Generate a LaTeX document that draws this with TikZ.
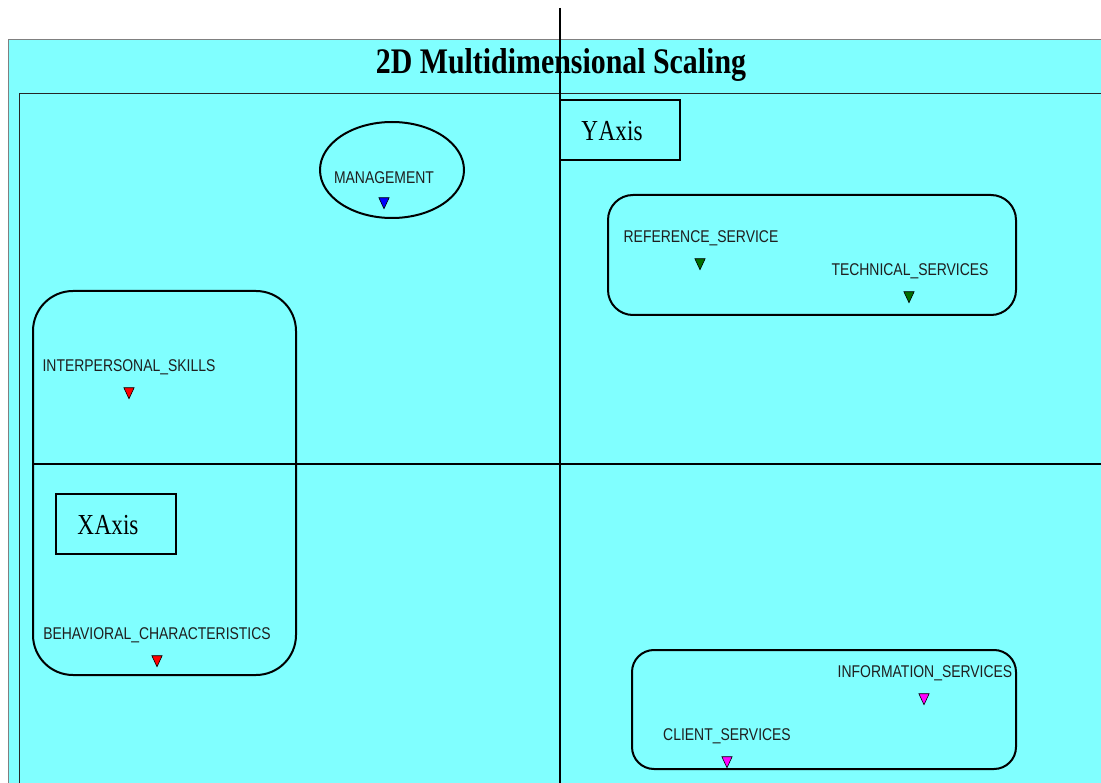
\documentclass[tikz,border=0pt]{standalone}
\usepackage{fontspec}
\setmainfont{Liberation Serif}
\newfontfamily\ptlabelfont[FakeStretch=0.82]{Liberation Sans}
\newfontfamily\titlefont[FakeStretch=0.83]{Liberation Serif}
\newfontfamily\axisfont[FakeStretch=0.8]{Liberation Serif}
\usetikzlibrary{shapes.geometric}
\definecolor{panelcyan}{HTML}{80FFFF}
\definecolor{ptblue}{HTML}{0000FF}
\definecolor{ptgreen}{HTML}{006E00}
\definecolor{ptred}{HTML}{FF0000}
\definecolor{ptmagenta}{HTML}{FF00FF}
\tikzset{
  ptlabel/.style={font=\ptlabelfont\fontsize{17}{17}\selectfont, text=black!88, inner sep=0pt, anchor=center},
  ptmark/.style={isosceles triangle, isosceles triangle apex angle=50, shape border rotate=-90,
    minimum height=11pt, minimum width=10pt, inner sep=0pt, draw=black, line width=0.6pt, fill=#1},
  axisbox/.style={draw=black, line width=2pt, minimum width=120pt, minimum height=60pt,
    inner sep=0pt},
  axistext/.style={font=\axisfont\fontsize{29}{29}\selectfont, inner sep=0pt},
  cluster/.style={draw=black, line width=2pt},
  axisline/.style={draw=black, line width=2pt}
}
\begin{document}
\begin{tikzpicture}[x=1pt,y=-1pt]
\useasboundingbox (0,0) rectangle (1101,783);
\clip (0,0) rectangle (1101,783);

% panel and plotting frame
\draw[fill=panelcyan, draw=black!50, line width=1pt] (8,40) rectangle (1120,800);
\draw[black!85, line width=1.5pt] (19.5,93.5) rectangle (1120,800);

% title
\node[font=\titlefont\bfseries\fontsize{36}{36}\selectfont, inner sep=0pt] (title) at (561,65) {2D Multidimensional Scaling};

% cluster outlines
\draw[cluster] (392,170) ellipse [x radius=72, y radius=48];
\draw[cluster, rounded corners=25pt] (608,195) rectangle (1016,315);
\draw[cluster, rounded corners=40pt] (33,291) rectangle (296,675);
\draw[cluster, rounded corners=22pt] (632,650) rectangle (1016,769);

% axes
\coordinate (ytop) at (560,8);
\coordinate (ybot) at (560,800);
\coordinate (xleft) at (33,464);
\coordinate (xright) at (1120,464);
\draw[axisline] (ytop) -- (ybot);
\draw[axisline] (xleft) -- (xright);

% axis captions
\node[axisbox] (yaxis) at (620,130) {};
\node[axistext] (yaxisT) at (612,131) {Y\hspace{0.5pt}Axis};
\node[axisbox] (xaxis) at (116,524) {};
\node[axistext] (xaxisT) at (108,525) {X\hspace{0.5pt}Axis};

% points
\node[ptmark=ptblue] (mgmt) at (384,201) {};
\node[ptlabel] (mgmtL) at (384,178) {MANAGEMENT};

\node[ptmark=ptgreen] (ref) at (700,262) {};
\node[ptlabel] (refL) at (701,238) {REFERENCE\_SERVICE};

\node[ptmark=ptgreen] (tech) at (909,295) {};
\node[ptlabel] (techL) at (910,271) {TECHNICAL\_SERVICES};

\node[ptmark=ptred] (inter) at (129,391) {};
\node[ptlabel] (interL) at (129,367) {INTERPERSONAL\_SKILLS};

\node[ptmark=ptred] (behav) at (157,659) {};
\node[ptlabel] (behavL) at (157,635) {BEHAVIORAL\_CHARACTERISTICS};

\node[ptmark=ptmagenta] (info) at (924,697) {};
\node[ptlabel] (infoL) at (925,673) {INFORMATION\_SERVICES};

\node[ptmark=ptmagenta] (client) at (727,760) {};
\node[ptlabel] (clientL) at (727,736) {CLIENT\_SERVICES};
\end{tikzpicture}
\end{document}
